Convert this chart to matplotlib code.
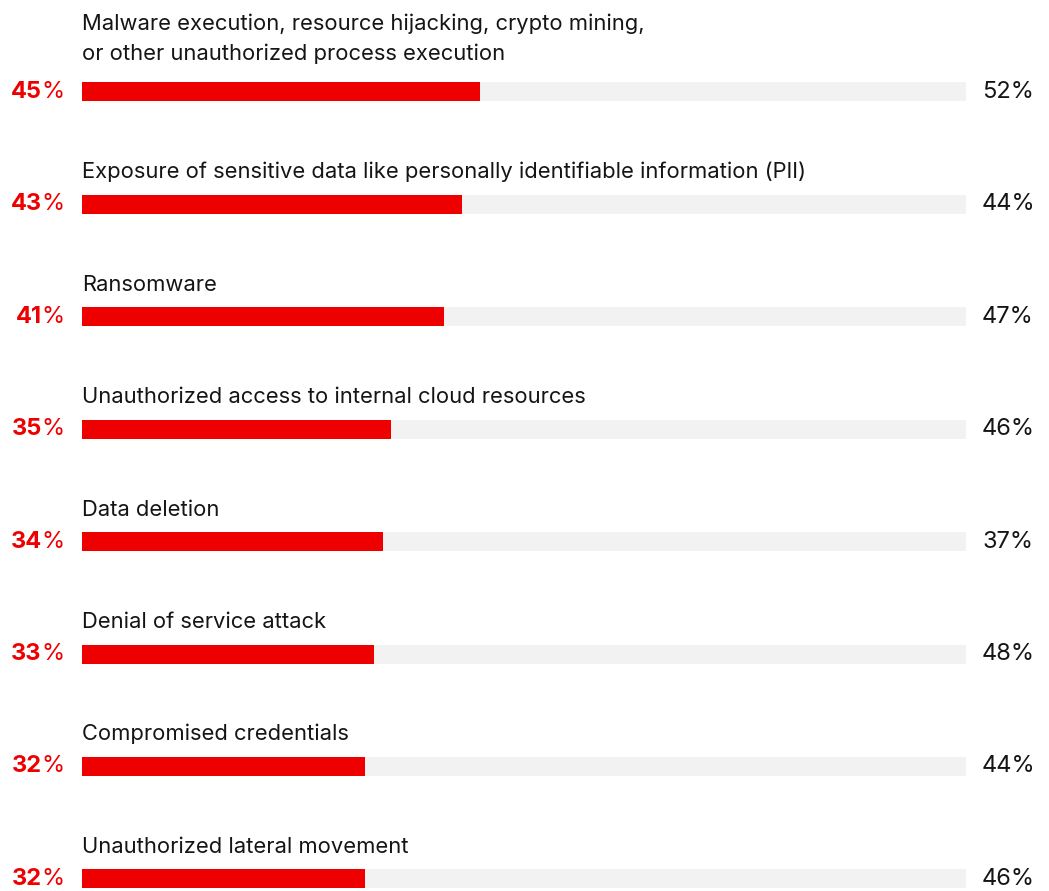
import matplotlib
matplotlib.use("Agg")
import matplotlib.pyplot as plt
from matplotlib.transforms import offset_copy

# data
categories = [
    "Malware execution, resource hijacking, crypto mining,\nor other unauthorized process execution",
    "Exposure of sensitive data like personally identifiable information (PII)",
    "Ransomware",
    "Unauthorized access to internal cloud resources",
    "Data deletion",
    "Denial of service attack",
    "Compromised credentials",
    "Unauthorized lateral movement",
]
left_values = [45, 43, 41, 35, 34, 33, 32, 32]
right_values = [52, 44, 47, 46, 37, 48, 44, 46]

RED = "#EE0000"
TRACK = "#F2F2F2"
FONT = "Inter"

W, H = 1049, 891
fig = plt.figure(figsize=(W / 100, H / 100), dpi=100)
ax = fig.add_axes([82 / W, 0, 884 / W, 1])

row_px = 112.4
first_px = 92
ax.set_xlim(0, 100)
ax.set_ylim((H - first_px) / row_px, -first_px / row_px)
ax.axis("off")

ys = list(range(len(categories)))
bar_h = 19 / row_px
ax.barh(ys, [100] * len(ys), height=bar_h, left=0, color=TRACK)
ax.barh(ys, left_values, height=bar_h, left=0, color=RED)

for y, cat, lv, rv in zip(ys, categories, left_values, right_values):
    # category label above the bar (wrapped labels sit a bit higher)
    extra = 6 * cat.count("\n")
    t_lab = offset_copy(ax.transData, fig=fig, x=0, y=26 + extra, units="dots")
    ax.text(0, y, cat, transform=t_lab, ha="left", va="baseline",
            fontsize=15.8, family=FONT, color="#151515", linespacing=1.55)

    # left value: bold number + regular percent sign, red
    t_left = offset_copy(ax.transData, fig=fig, x=-18, y=0, units="dots")
    pct = ax.text(0, y, "%", transform=t_left, ha="right", va="center",
                  fontsize=17, family=FONT, color=RED)
    ax.annotate(str(lv), xy=(0, 0), xycoords=pct, xytext=(1, 0),
                textcoords="offset pixels", ha="right", va="bottom",
                fontsize=17, family=FONT, color=RED, fontweight="bold")

    # right value
    t_right = offset_copy(ax.transData, fig=fig, x=16, y=0, units="dots")
    ax.text(100, y, f"{rv}%", transform=t_right, ha="left", va="center",
            fontsize=17, family=FONT, color="#151515")

fig.savefig("out.png", dpi=100)
